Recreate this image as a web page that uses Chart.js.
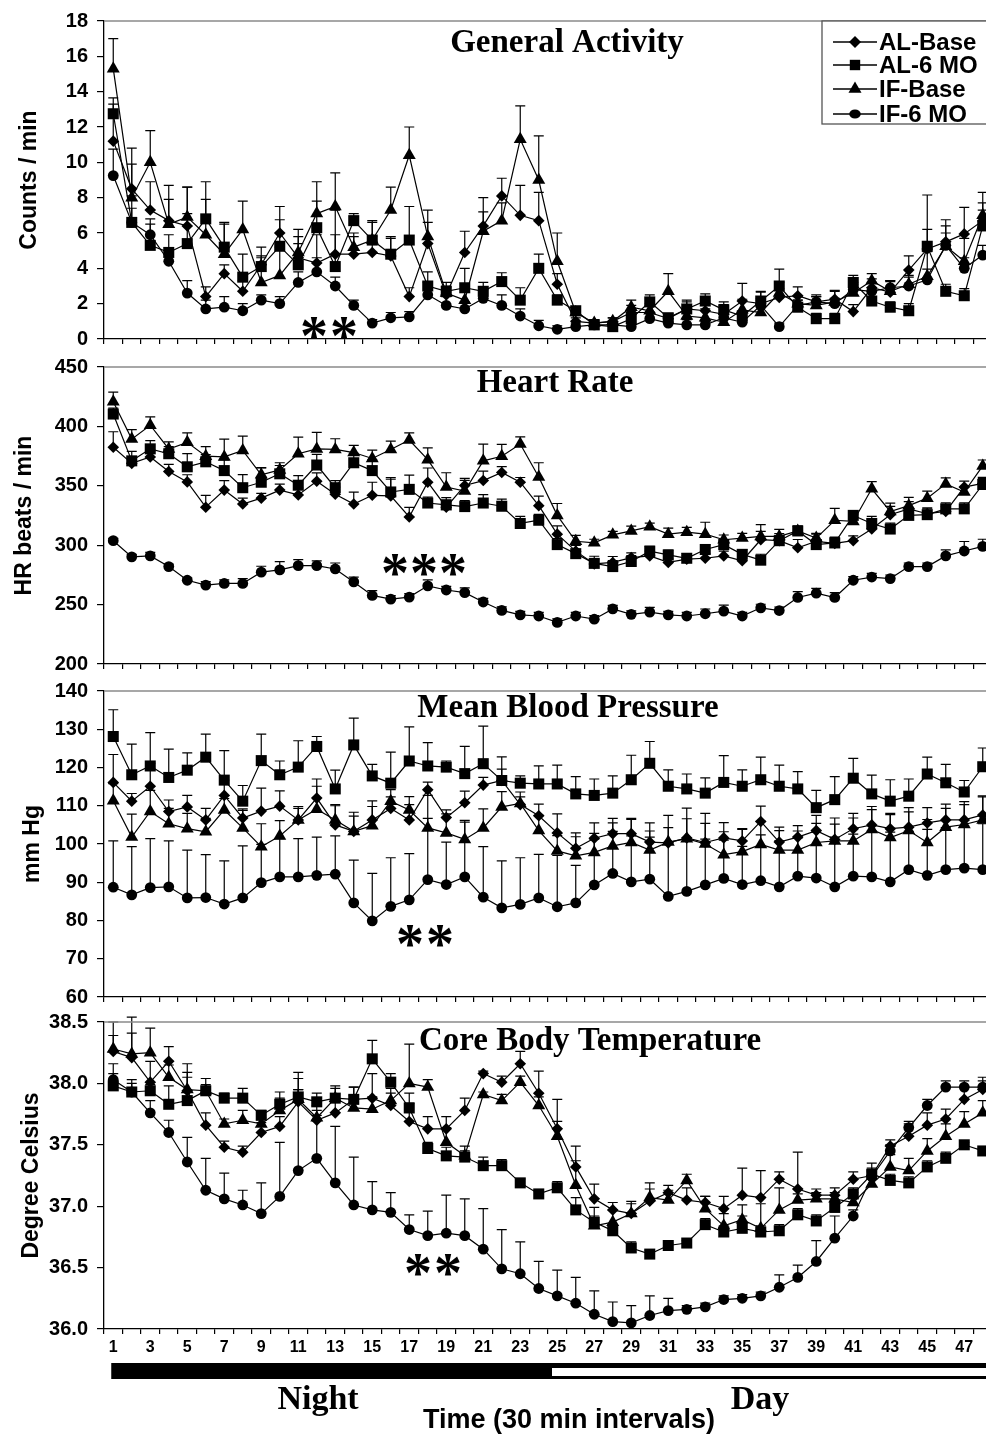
<!DOCTYPE html>
<html>
<head>
<meta charset="utf-8">
<title>General Activity, Heart Rate, Mean Blood Pressure, Core Body Temperature</title>
<script src="https://cdn.jsdelivr.net/npm/chart.js@4.4.1/dist/chart.umd.min.js"></script>
<style>
  html, body { margin: 0; padding: 0; background: #fff; }
  body { width: 986px; height: 1437px; overflow: hidden; position: relative; }
  canvas { position: absolute; left: 0; }
</style>
</head>
<body>
<canvas id="activity" width="1000" height="360" style="top:0px"></canvas>
<canvas id="heart" width="1000" height="339" style="top:346px"></canvas>
<canvas id="pressure" width="1000" height="348" style="top:670px"></canvas>
<canvas id="temperature" width="1000" height="436" style="top:1001px"></canvas>
<script>
// 30 min intervals, 1..48
const intervals = ['1','2','3','4','5','6','7','8','9','10','11','12','13','14','15','16',
  '17','18','19','20','21','22','23','24','25','26','27','28','29','30','31','32',
  '33','34','35','36','37','38','39','40','41','42','43','44','45','46','47','48'];

const seriesNames = ['AL-Base', 'AL-6 MO', 'IF-Base', 'IF-6 MO'];

// General Activity (counts / min)
const actALBase = [11.2, 8.5, 7.3, 6.7, 6.4, 2.4, 3.7, 2.7, 4.2, 6.0, 4.6, 4.3, 4.8, 4.8, 4.9, 4.7, 2.4, 5.4, 2.5, 4.9, 6.4, 8.1, 7.0, 6.7,
  3.1, 1.0, 0.9, 1.0, 1.5, 1.5, 1.15, 1.7, 1.6, 1.4, 2.15, 2.0, 2.35, 2.45, 2.1, 2.25, 1.55, 2.9, 2.65, 3.9, 5.1, 5.5, 5.95, 6.7];
const actAL6MO = [12.75, 6.6, 5.3, 4.9, 5.4, 6.8, 5.2, 3.5, 4.1, 5.25, 4.2, 6.3, 4.1, 6.7, 5.6, 4.8, 5.6, 3.0, 2.7, 2.9, 2.7, 3.25, 2.2, 4.0,
  2.2, 1.6, 0.8, 0.7, 1.15, 2.1, 1.2, 1.7, 2.15, 1.65, 1.3, 2.15, 3.0, 1.8, 1.15, 1.15, 3.2, 2.15, 1.8, 1.6, 5.25, 2.7, 2.45, 6.4];
const actIFBase = [15.3, 8.0, 10.0, 6.5, 6.9, 5.9, 4.8, 6.2, 3.2, 3.6, 4.9, 7.1, 7.5, 5.2, 5.6, 7.3, 10.4, 5.8, 2.6, 2.2, 6.1, 6.7, 11.3, 9.0,
  4.4, 1.5, 0.9, 1.0, 1.8, 1.6, 2.7, 1.3, 1.2, 0.95, 1.65, 1.5, 2.6, 2.0, 1.9, 2.1, 2.6, 3.3, 2.7, 3.1, 3.55, 5.25, 4.4, 7.0];
const actIF6MO = [9.25, 6.6, 5.9, 4.4, 2.6, 1.7, 1.8, 1.6, 2.2, 2.0, 3.2, 3.8, 3.0, 1.9, 0.9, 1.2, 1.25, 2.5, 1.9, 1.7, 2.3, 1.9, 1.3, 0.75,
  0.55, 0.7, 0.8, 0.8, 0.7, 1.15, 0.9, 0.8, 0.8, 1.2, 0.95, 1.9, 0.7, 1.9, 2.1, 2.0, 2.8, 2.7, 2.9, 3.0, 3.35, 5.3, 4.0, 4.75];
const actALBaseErr = [2.1,1.4,1.6,1.2,2.2,0.55,0.5,0.6,1.0,1.5,1.2,1.6,2.5,1.0,0.9,1.0,0.5,1.2,0.4,1.2,1.6,1.0,1.7,1.6,
  0.6,0.2,0.2,0.2,0.4,0.4,0.3,0.5,0.4,0.7,1.0,0.7,0.5,0.5,0.4,0.5,0.4,0.5,0.6,0.8,1.1,0.9,1.5,1.0];
const actAL6MOErr = [0.9,1.5,1.5,1.0,1.7,2.1,1.3,1.3,0.6,1.5,1.2,1.5,1.8,0.4,1.0,1.0,1.9,0.8,0.5,1.1,0.5,0.5,0.7,0.8,
  0.3,0.2,0.1,0.1,0.3,0.4,0.2,0.4,0.4,0.3,0.3,0.5,0.95,0.4,0.3,0.3,0.4,0.5,0.3,0.4,2.9,0.4,0.4,0.9];
const actIFBaseErr = [1.7,2.8,1.8,2.2,1.7,2.0,1.8,1.6,1.4,1.6,1.3,1.8,1.9,0.8,1.1,1.3,1.6,1.5,0.4,0.6,1.1,1.0,1.9,2.5,
  1.6,0.3,0.2,0.2,0.4,0.4,1.0,0.5,0.5,0.3,0.6,0.8,0.6,0.4,0.5,0.6,0.5,0.4,0.6,0.5,1.4,1.5,1.3,1.3];
const actIF6MOErr = [1.5,0.8,0.6,0.4,0.7,0.5,0.6,0.4,0.3,0.4,0.6,0.8,0.5,0.3,0.2,0.3,0.3,0.7,0.5,0.4,0.5,0.6,0.4,0.3,
  0.2,0.2,0.2,0.2,0.2,0.3,0.2,0.3,0.2,0.2,0.2,0.3,0.2,0.3,0.3,0.3,0.4,0.5,0.4,0.5,0.6,0.7,0.6,0.55];

// Heart Rate (beats / min)
const hrALBase = [382.5, 368.9, 374.3, 362, 353.3, 332, 346.4, 334.7, 339.6, 346.4, 342.3, 353.8, 342.9, 334.7, 342, 341.5, 323.8, 353, 332, 350.3, 354.4, 361.2, 353, 333.3,
  309.3, 295, 284.2, 285.5, 289.6, 291, 285.5, 288.3, 289, 291, 286.9, 304.6, 303.8, 297.8, 303.3, 301.5, 303.8, 313.6, 325.7, 330.6, 326.5, 328.4, 348.9, 352];
const hrAL6MO = [410.4, 371, 381.1, 377, 366, 370.2, 362.8, 348.4, 353, 360.1, 350.5, 367.5, 348.4, 369.4, 362.8, 344.8, 347, 335.5, 333.9, 332.5, 335.5, 332.8, 318.3, 321,
  300.5, 292.9, 284.7, 282, 286.3, 295, 291.8, 289, 296.4, 300.5, 292.3, 287.4, 303.8, 312, 300.5, 301.9, 325.1, 318.3, 313.6, 325.1, 325.7, 330.6, 330.6, 351.1];
const hrIFBase = [420.8, 389.3, 401, 381, 386.6, 374.9, 374.3, 379.8, 359.3, 363.4, 377, 381, 380.6, 378, 373, 380.6, 388.5, 372, 349, 345.6, 371, 374.9, 385.2, 357.4,
  325.1, 303.3, 302, 308.7, 312, 315.6, 309.3, 311, 309.3, 304.6, 306, 307.4, 307.4, 312, 306, 321, 320, 347.5, 328.4, 333.3, 339.6, 351.6, 344.8, 366.7];
const hrIF6MO = [303.8, 290.2, 291, 282, 270.5, 266.4, 267.8, 267.8, 277.3, 279.2, 282.8, 282.8, 280, 269.1, 257.7, 254.6, 256.3, 265.8, 262.3, 260.1, 252.2, 245.1, 241.3, 240.4,
  235, 240.4, 237.7, 246.4, 241.8, 243.7, 241.3, 240.4, 242.3, 244.5, 240.4, 247.3, 245, 256, 259.6, 256, 270.5, 273.2, 271.9, 282, 282, 291, 295.1, 299];
const hrALBaseErr = [13,5,5,6,6,10,8,5,4,5,6,7,6,10,11,14,8,12,8,6,8,5,4,8,
  7,6,4,5,4,4,3,3,4,4,4,7,6,7,6,5,4,5,7,6,5,4,5,4];
const hrAL6MOErr = [5,8,7,6,11,6,9,11,12,7,8,9,6,8,9,12,12,5,4,5,7,6,6,5,
  5,7,6,5,5,4,4,4,4,4,4,5,4,4,4,5,4,6,5,5,5,5,5,6];
const hrIFBaseErr = [8,8,7,6,8,8,15,12,6,6,14,14,9,6,7,7,6,10,12,9,14,10,6,12,
  10,5,3,3,4,3,5,4,10,4,4,10,6,4,4,10,6,6,7,7,6,5,4,5];
const hrIF6MOErr = [2,2,3,2,2,3,3,4,5,7,5,4,5,4,4,3,3,5,3,4,3,3,3,3,
  3,3,3,3,3,4,3,3,4,5,3,3,3,5,4,4,3,3,3,3,3,5,8,6];

// Mean Blood Pressure (mm Hg)
const bpALBase = [116.1, 111.2, 115.1, 108.5, 109.7, 106.3, 112.7, 106.8, 108.6, 109.9, 106.3, 112, 105, 103.3, 106.3, 109.3, 106.3, 114.2, 106.9, 110.8, 115.4, 116.6, 110.3, 107.4,
  102.9, 98.9, 101.5, 102.7, 102.7, 100.5, 100.3, 101.6, 100.4, 101.6, 100.8, 105.9, 100.5, 101.8, 103.5, 101.2, 104, 105, 104, 104.4, 105.5, 106.3, 106.3, 107.6];
const bpAL6MO = [128.1, 118.1, 120.4, 117.4, 119.3, 122.7, 116.7, 111.2, 121.8, 118.1, 120.1, 125.5, 114.4, 125.9, 117.8, 115.9, 121.7, 120.4, 120.1, 118.4, 121, 116.6, 115.9, 115.7,
  115.7, 113.1, 112.7, 113.3, 116.8, 121.1, 115.1, 114.4, 113.3, 116.1, 115.1, 116.8, 115.1, 114.4, 109.5, 111.6, 117.2, 113.1, 111.2, 112.5, 118.3, 116, 113.6, 120.2];
const bpIFBase = [111.3, 101.8, 108.5, 105.3, 104, 103.2, 108.9, 104.2, 99.3, 102.1, 106.3, 109.1, 106.3, 103.3, 104.8, 111.2, 108.9, 104.2, 102.9, 101.2, 104.2, 109.7, 110.6, 103.5,
  98.2, 96.9, 97.8, 99.5, 100.4, 98.4, 100.5, 101.4, 100.0, 97.2, 98.0, 99.9, 98.4, 98.4, 100.4, 100.8, 100.8, 103.8, 101.7, 103.5, 100.4, 104.4, 105.1, 106.3];
const bpIF6MO = [88.7, 86.7, 88.6, 88.8, 85.9, 86, 84.3, 85.9, 89.9, 91.4, 91.4, 91.8, 92.1, 84.6, 79.9, 83.7, 85.4, 90.7, 89.4, 91.4, 86.1, 83.3, 84.2, 85.9,
  83.6, 84.6, 89.3, 92.3, 90.1, 90.8, 86.3, 87.6, 89.3, 91, 89.4, 90.4, 88.8, 91.6, 91.1, 88.8, 91.6, 91.4, 90.1, 93.3, 91.8, 93.3, 93.7, 93.3];
const bpALBaseErr = [7.3,2,6,3,3,3,4,2,6,4,3,5,5,4,5,3,4,2,2,3,2,3,2,3,
  5,4,4,4,4,5,4,5,5,4,3,4,3,3,4,4,4,4,4,4,4,3,4,5];
const bpAL6MOErr = [7,8,8.7,7.4,4.5,6,7.7,4.1,6.9,3.6,6.9,2.6,4.9,7,3,8.1,8.9,6.1,1.6,7.1,9.8,6.2,1.9,4.7,
  4.9,4.5,4.3,4.5,6.4,5.7,4.3,3.9,4,7,4.3,5.9,5.5,4.5,4.5,6,5.2,4.9,5.6,4.5,4.4,4.8,3,4.9];
const bpIFBaseErr = [4.5,6,5.5,4,4,3.5,3,5,6,4,3.5,6,4,5,5,3,3.5,8.5,5,5,5,4,3,4,
  4,5,5,6,6,5,7,8,8,6,6,6,6,5,5,6,6,6,6,6,6,6,6,6];
const bpIF6MOErr = [12.1,12.6,12.8,12,12.5,11.2,11.3,13.6,10,10,10,10,10,11.2,12.4,12.7,12.1,16,11.1,14.3,13.2,12.3,12.2,11.4,
  13.4,9.8,12,11,12,11,14,14,12,10,10,12,12,10,12,13,11,12,13,10,12,11,11,12];

// Core Body Temperature (degree Celsius)
const tempALBase = [38.26, 38.21, 38.01, 38.18, 37.94, 37.66, 37.48, 37.44, 37.60, 37.65, 37.85, 37.70, 37.76, 37.87, 37.88, 37.82, 37.69, 37.63, 37.63, 37.78, 38.08, 38.01, 38.16, 37.92,
  37.63, 37.32, 37.06, 36.97, 36.94, 37.04, 37.11, 37.05, 37.03, 36.98, 37.09, 37.07, 37.22, 37.14, 37.09, 37.09, 37.22, 37.25, 37.49, 37.57, 37.66, 37.71, 37.87, 37.95];
const tempAL6MO = [37.98, 37.93, 37.94, 37.83, 37.86, 37.94, 37.88, 37.88, 37.74, 37.83, 37.89, 37.85, 37.88, 37.87, 38.20, 38.01, 37.80, 37.47, 37.41, 37.40, 37.33, 37.33, 37.19, 37.10,
  37.15, 36.97, 36.87, 36.80, 36.66, 36.61, 36.68, 36.70, 36.85, 36.79, 36.82, 36.79, 36.80, 36.93, 36.88, 36.99, 37.10, 37.26, 37.21, 37.19, 37.32, 37.39, 37.50, 37.45];
const tempIFBase = [38.28, 38.24, 38.25, 38.05, 37.95, 37.94, 37.67, 37.70, 37.67, 37.78, 37.87, 37.72, 37.88, 37.80, 37.79, 37.86, 38.00, 37.97, 37.52, 37.41, 37.91, 37.86, 38.01, 37.82,
  37.57, 37.17, 36.84, 36.87, 36.94, 37.07, 37.05, 37.21, 36.98, 36.84, 36.89, 36.82, 36.97, 37.05, 37.06, 37.06, 37.03, 37.18, 37.32, 37.29, 37.45, 37.57, 37.67, 37.76];
const tempIF6MO = [38.03, 37.93, 37.76, 37.60, 37.36, 37.13, 37.06, 37.01, 36.94, 37.08, 37.29, 37.39, 37.19, 37.01, 36.97, 36.95, 36.81, 36.76, 36.78, 36.76, 36.65, 36.49, 36.45, 36.33,
  36.27, 36.21, 36.12, 36.06, 36.05, 36.11, 36.15, 36.16, 36.18, 36.24, 36.25, 36.27, 36.34, 36.42, 36.55, 36.74, 36.92, 37.24, 37.45, 37.64, 37.82, 37.97, 37.97, 37.97];
const tempALBaseErr = [0.13,0.2,0.17,0.12,0.15,0.1,0.05,0.05,0.08,0.08,0.1,0.12,0.1,0.1,0.2,0.1,0.15,0.1,0.1,0.1,0.02,0.05,0.1,0.18,
  0.24,0.17,0.12,0.06,0.08,0.1,0.06,0.1,0.05,0.1,0.22,0.22,0.06,0.3,0.05,0.06,0.06,0.1,0.05,0.1,0.1,0.08,0.1,0.1];
const tempAL6MOErr = [0.1,0.07,0.05,0.15,0.3,0.05,0.04,0.08,0.04,0.1,0.15,0.07,0.1,0.1,0.15,0.07,0.12,0.05,0.07,0.05,0.07,0.05,0.03,0.03,
  0.05,0.1,0.05,0.05,0.05,0.03,0.02,0.02,0.05,0.05,0.1,0.05,0.05,0.05,0.05,0.05,0.05,0.05,0.05,0.05,0.05,0.05,0.02,0.02];
const tempIFBaseErr = [0.22,0.3,0.2,0.1,0.1,0.1,0.04,0.08,0.05,0.1,0.08,0.06,0.08,0.1,0.1,0.1,0.32,0.06,0.12,0.08,0.02,0.05,0.05,0.07,
  0.12,0.2,0.15,0.1,0.1,0.12,0.08,0.05,0.1,0.1,0.12,0.2,0.18,0.05,0.05,0.05,0.08,0.1,0.1,0.1,0.1,0.1,0.1,0.1];
const tempIF6MOErr = [0.13,0.1,0.1,0.1,0.2,0.26,0.21,0.12,0.25,0.44,0.8,0.35,0.46,0.39,0.23,0.16,0.12,0.2,0.31,0.3,0.33,0.32,0.26,0.22,
  0.21,0.21,0.19,0.16,0.14,0.16,0.1,0.03,0.03,0.03,0.03,0.03,0.1,0.1,0.17,0.18,0.05,0.05,0.05,0.05,0.05,0.05,0.05,0.05];

const SANS = '"Liberation Sans", Arial, sans-serif';
const SERIF = '"Liberation Serif", "Times New Roman", serif';
const markerStyles = ['rectRot', 'rect', 'triangle', 'circle'];
const markerRadius = [5.8, 7.8, 7.5, 5.4];

function drawMarker(ctx, style, x, y, r) {
  ctx.beginPath();
  if (style === 'rectRot') {
    ctx.moveTo(x, y - r); ctx.lineTo(x + r, y); ctx.lineTo(x, y + r); ctx.lineTo(x - r, y);
  } else if (style === 'rect') {
    ctx.rect(x - r, y - r, 2 * r, 2 * r);
  } else if (style === 'triangle') {
    ctx.moveTo(x, y - r); ctx.lineTo(x + r * 0.87, y + r * 0.5); ctx.lineTo(x - r * 0.87, y + r * 0.5);
  } else {
    ctx.ellipse(x, y, r * 1.1, r * 0.85, 0, 0, Math.PI * 2);
  }
  ctx.closePath();
  ctx.fill();
}

// upward SEM bars, drawn under the markers
const errorBars = {
  id: 'errorBars',
  beforeDatasetsDraw(chart) {
    const ctx = chart.ctx;
    const y = chart.scales.y;
    ctx.save();
    ctx.strokeStyle = '#000';
    ctx.lineWidth = 1.2;
    chart.data.datasets.forEach((ds, i) => {
      chart.getDatasetMeta(i).data.forEach((pt, j) => {
        const top = y.getPixelForValue(ds.data[j] + ds.errors[j]);
        ctx.beginPath();
        ctx.moveTo(pt.x, pt.y); ctx.lineTo(pt.x, top);
        ctx.moveTo(pt.x - 5, top); ctx.lineTo(pt.x + 5, top);
        ctx.stroke();
      });
    });
    ctx.restore();
  }
};

// frame line, panel title, significance stars, legend, night/day bar
const panelDecor = {
  id: 'panelDecor',
  afterDraw(chart, args, o) {
    const ctx = chart.ctx, area = chart.chartArea, dy = o.top;
    ctx.save();
    ctx.strokeStyle = '#8a8a8a';
    ctx.lineWidth = 1.5;
    ctx.beginPath();
    ctx.moveTo(area.left, area.top); ctx.lineTo(area.right, area.top);
    ctx.stroke();

    ctx.fillStyle = '#000';
    ctx.font = 'bold 33px ' + SERIF;
    ctx.textAlign = 'center';
    ctx.textBaseline = 'alphabetic';
    ctx.fillText(o.title, o.titleX, o.titleY - dy);

    ctx.font = 'bold 56px ' + SERIF;
    const m = ctx.measureText('*');
    const shift = (m.actualBoundingBoxAscent - m.actualBoundingBoxDescent) / 2;
    o.stars.forEach(s => ctx.fillText('*', s[0], s[1] - dy + shift));

    if (o.legend) {
      const bx = 822, by = 21, bw = 170, bh = 103;
      ctx.save();
      ctx.beginPath(); ctx.rect(bx, by, bw, bh); ctx.clip();
      ctx.fillStyle = '#fff'; ctx.fillRect(bx, by, bw, bh);
      ctx.fillStyle = '#000'; ctx.strokeStyle = '#000'; ctx.lineWidth = 1.3;
      ctx.font = 'bold 24px ' + SANS;
      ctx.textAlign = 'left'; ctx.textBaseline = 'middle';
      const rows = [42, 65, 89, 114];
      const legendR = [6, 5.2, 7.5, 5.2];
      seriesNames.forEach((name, i) => {
        ctx.beginPath(); ctx.moveTo(833, rows[i]); ctx.lineTo(877, rows[i]); ctx.stroke();
        drawMarker(ctx, markerStyles[i], 855, rows[i], legendR[i]);
        ctx.fillText(name, 879, rows[i] + 1);
      });
      ctx.restore();
      ctx.strokeStyle = '#555'; ctx.lineWidth = 1.3;
      ctx.strokeRect(bx, by, bw, bh);
    }

    if (o.dayNight) {
      const x = chart.scales.x;
      const left = x.getPixelForValue(0) - 2;
      const mid = (x.getPixelForValue(23) + x.getPixelForValue(24)) / 2;
      const y0 = 1363 - dy;
      ctx.fillStyle = '#000';
      ctx.fillRect(left, y0, chart.width - left, 16);
      ctx.fillStyle = '#fff';
      ctx.fillRect(mid + 4, y0 + 5, chart.width, 8);
      ctx.fillStyle = '#000';
      ctx.font = 'bold 34px ' + SERIF;
      ctx.textAlign = 'center'; ctx.textBaseline = 'alphabetic';
      ctx.fillText('Night', 318, 1409 - dy);
      ctx.fillText('Day', 760, 1409 - dy);
      ctx.font = 'bold 27px ' + SANS;
      ctx.textBaseline = 'middle';
      ctx.fillText('Time (30 min intervals)', 569, 1421 - dy);
    }
    ctx.restore();
  }
};

function makePanel(id, p) {
  return new Chart(document.getElementById(id), {
    type: 'line',
    data: {
      labels: intervals,
      datasets: p.values.map((vals, i) => ({
        label: seriesNames[i],
        data: vals,
        errors: p.errors[i],
        borderColor: '#000',
        backgroundColor: '#000',
        borderWidth: 1.2,
        pointStyle: markerStyles[i],
        pointRadius: markerRadius[i],
        pointBackgroundColor: '#000',
        pointBorderColor: '#000',
        pointBorderWidth: 0,
        tension: 0,
        clip: false
      }))
    },
    options: {
      responsive: false,
      animation: false,
      events: [],
      layout: { padding: { top: 20, right: 8, left: 0, bottom: 0 } },
      plugins: {
        legend: { display: false },
        tooltip: { enabled: false },
        panelDecor: p.decor
      },
      scales: {
        x: {
          type: 'category',
          offset: true,
          grid: { offset: true, drawOnChartArea: false, tickLength: 5, color: '#000', lineWidth: 1.2 },
          border: { color: '#000', width: 1.3 },
          ticks: {
            display: p.showX,
            autoSkip: false,
            maxRotation: 0,
            padding: 4,
            color: '#000',
            font: { family: SANS, size: 16, weight: 'bold' },
            callback: (v, i) => (i % 2 === 0 ? intervals[i] : '')
          },
          afterFit: s => { s.height = p.xHeight; }
        },
        y: {
          min: p.min,
          max: p.max,
          grid: { drawOnChartArea: false, tickLength: 7, color: '#000', lineWidth: 1.2 },
          border: { color: '#000', width: 1.3 },
          ticks: {
            stepSize: p.step,
            padding: 9,
            color: '#000',
            font: { family: SANS, size: 20, weight: 'bold' },
            callback: v => (p.decimals ? v.toFixed(p.decimals) : v)
          },
          title: {
            display: true,
            text: p.yTitle,
            color: '#000',
            font: { family: SANS, size: 23, weight: 'bold' },
            padding: { top: p.titlePad, bottom: 0 }
          },
          afterFit: s => { s.width = 104; }
        }
      }
    },
    plugins: [errorBars, panelDecor]
  });
}

makePanel('activity', {
  values: [actALBase, actAL6MO, actIFBase, actIF6MO],
  errors: [actALBaseErr, actAL6MOErr, actIFBaseErr, actIF6MOErr],
  min: 0, max: 18, step: 2, decimals: 0,
  yTitle: 'Counts / min', titlePad: 16,
  showX: false, xHeight: 15,
  decor: { top: 0, title: 'General Activity', titleX: 567, titleY: 52, stars: [[314, 328], [344, 328]], legend: true }
});

makePanel('heart', {
  values: [hrALBase, hrAL6MO, hrIFBase, hrIF6MO],
  errors: [hrALBaseErr, hrAL6MOErr, hrIFBaseErr, hrIF6MOErr],
  min: 200, max: 450, step: 50, decimals: 0,
  yTitle: 'HR beats / min', titlePad: 11,
  showX: false, xHeight: 15,
  decor: { top: 346, title: 'Heart Rate', titleX: 555, titleY: 392, stars: [[395, 565], [424, 565], [453, 565]] }
});

makePanel('pressure', {
  values: [bpALBase, bpAL6MO, bpIFBase, bpIF6MO],
  errors: [bpALBaseErr, bpAL6MOErr, bpIFBaseErr, bpIF6MOErr],
  min: 60, max: 140, step: 10, decimals: 0,
  yTitle: 'mm Hg', titlePad: 19,
  showX: false, xHeight: 15,
  decor: { top: 670, title: 'Mean Blood Pressure', titleX: 568, titleY: 717, stars: [[410, 936], [440, 936]] }
});

makePanel('temperature', {
  values: [tempALBase, tempAL6MO, tempIFBase, tempIF6MO],
  errors: [tempALBaseErr, tempAL6MOErr, tempIFBaseErr, tempIF6MOErr],
  min: 36, max: 38.5, step: 0.5, decimals: 1,
  yTitle: 'Degree Celsius', titlePad: 18,
  showX: true, xHeight: 108,
  decor: { top: 1001, title: 'Core Body Temperature', titleX: 590, titleY: 1050, stars: [[418, 1265], [448, 1265]], dayNight: true }
});
</script>
</body>
</html>
